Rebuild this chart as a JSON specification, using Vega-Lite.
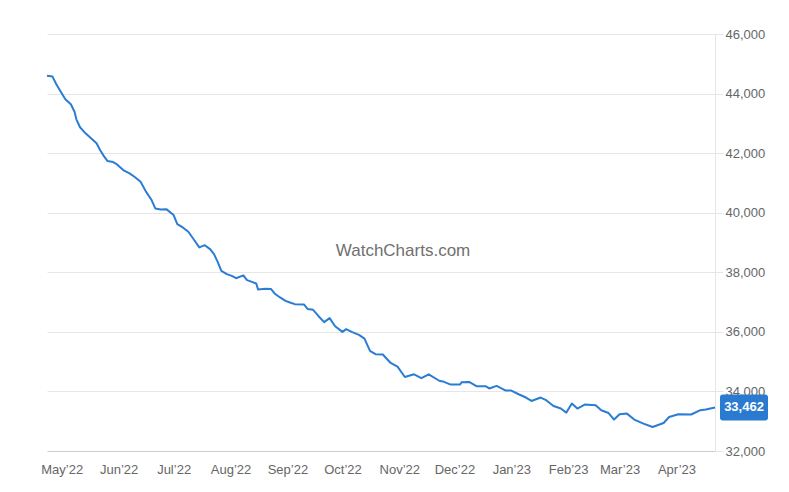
{
  "$schema": "https://vega.github.io/schema/vega-lite/v6.json",
  "width": 668,
  "height": 417,
  "autosize": "none",
  "padding": {"left": 47, "top": 34, "right": 74, "bottom": 41},
  "background": "white",
  "config": {
    "view": {"stroke": null},
    "font": "Liberation Sans"
  },
  "datasets": {
    "prices": [
      {"date": "2022-04-23", "price": 44600},
      {"date": "2022-04-26", "price": 44570},
      {"date": "2022-04-28", "price": 44320},
      {"date": "2022-05-01", "price": 44010},
      {"date": "2022-05-03", "price": 43810},
      {"date": "2022-05-06", "price": 43640},
      {"date": "2022-05-08", "price": 43390},
      {"date": "2022-05-09", "price": 43135},
      {"date": "2022-05-11", "price": 42870},
      {"date": "2022-05-14", "price": 42665},
      {"date": "2022-05-17", "price": 42500},
      {"date": "2022-05-20", "price": 42330},
      {"date": "2022-05-22", "price": 42100},
      {"date": "2022-05-24", "price": 41900},
      {"date": "2022-05-26", "price": 41735},
      {"date": "2022-05-29", "price": 41700},
      {"date": "2022-05-31", "price": 41630},
      {"date": "2022-06-04", "price": 41410},
      {"date": "2022-06-07", "price": 41320},
      {"date": "2022-06-10", "price": 41190},
      {"date": "2022-06-13", "price": 41040},
      {"date": "2022-06-16", "price": 40700},
      {"date": "2022-06-19", "price": 40425},
      {"date": "2022-06-21", "price": 40145},
      {"date": "2022-06-24", "price": 40110},
      {"date": "2022-06-27", "price": 40120},
      {"date": "2022-07-01", "price": 39920},
      {"date": "2022-07-03", "price": 39620},
      {"date": "2022-07-06", "price": 39505},
      {"date": "2022-07-09", "price": 39360},
      {"date": "2022-07-12", "price": 39100},
      {"date": "2022-07-15", "price": 38835},
      {"date": "2022-07-18", "price": 38910},
      {"date": "2022-07-21", "price": 38770},
      {"date": "2022-07-23", "price": 38610},
      {"date": "2022-07-25", "price": 38350},
      {"date": "2022-07-27", "price": 38050},
      {"date": "2022-07-30", "price": 37940},
      {"date": "2022-08-02", "price": 37870},
      {"date": "2022-08-04", "price": 37800},
      {"date": "2022-08-08", "price": 37895},
      {"date": "2022-08-10", "price": 37735},
      {"date": "2022-08-13", "price": 37670},
      {"date": "2022-08-15", "price": 37625},
      {"date": "2022-08-16", "price": 37425},
      {"date": "2022-08-20", "price": 37445},
      {"date": "2022-08-23", "price": 37440},
      {"date": "2022-08-25", "price": 37290},
      {"date": "2022-08-28", "price": 37155},
      {"date": "2022-08-31", "price": 37040},
      {"date": "2022-09-02", "price": 36995},
      {"date": "2022-09-05", "price": 36930},
      {"date": "2022-09-10", "price": 36920},
      {"date": "2022-09-12", "price": 36770},
      {"date": "2022-09-15", "price": 36740},
      {"date": "2022-09-18", "price": 36525},
      {"date": "2022-09-21", "price": 36325},
      {"date": "2022-09-24", "price": 36460},
      {"date": "2022-09-27", "price": 36190},
      {"date": "2022-10-01", "price": 36000},
      {"date": "2022-10-03", "price": 36090},
      {"date": "2022-10-06", "price": 36000},
      {"date": "2022-10-10", "price": 35900},
      {"date": "2022-10-13", "price": 35775},
      {"date": "2022-10-16", "price": 35360},
      {"date": "2022-10-19", "price": 35250},
      {"date": "2022-10-23", "price": 35240},
      {"date": "2022-10-27", "price": 34970},
      {"date": "2022-10-31", "price": 34835},
      {"date": "2022-11-04", "price": 34485},
      {"date": "2022-11-09", "price": 34575},
      {"date": "2022-11-13", "price": 34445},
      {"date": "2022-11-17", "price": 34575},
      {"date": "2022-11-23", "price": 34350},
      {"date": "2022-11-25", "price": 34330},
      {"date": "2022-11-29", "price": 34230},
      {"date": "2022-12-04", "price": 34230},
      {"date": "2022-12-05", "price": 34310},
      {"date": "2022-12-09", "price": 34320},
      {"date": "2022-12-13", "price": 34175},
      {"date": "2022-12-18", "price": 34175},
      {"date": "2022-12-20", "price": 34100},
      {"date": "2022-12-24", "price": 34185},
      {"date": "2022-12-29", "price": 34030},
      {"date": "2023-01-01", "price": 34030},
      {"date": "2023-01-05", "price": 33905},
      {"date": "2023-01-09", "price": 33795},
      {"date": "2023-01-12", "price": 33680},
      {"date": "2023-01-17", "price": 33795},
      {"date": "2023-01-20", "price": 33705},
      {"date": "2023-01-24", "price": 33510},
      {"date": "2023-01-28", "price": 33425},
      {"date": "2023-01-31", "price": 33290},
      {"date": "2023-02-03", "price": 33595},
      {"date": "2023-02-06", "price": 33425},
      {"date": "2023-02-10", "price": 33560},
      {"date": "2023-02-16", "price": 33535},
      {"date": "2023-02-19", "price": 33370},
      {"date": "2023-02-23", "price": 33275},
      {"date": "2023-02-26", "price": 33055},
      {"date": "2023-03-01", "price": 33235},
      {"date": "2023-03-05", "price": 33255},
      {"date": "2023-03-09", "price": 33055},
      {"date": "2023-03-14", "price": 32920},
      {"date": "2023-03-19", "price": 32805},
      {"date": "2023-03-25", "price": 32940},
      {"date": "2023-03-28", "price": 33140},
      {"date": "2023-04-02", "price": 33235},
      {"date": "2023-04-09", "price": 33225},
      {"date": "2023-04-14", "price": 33370},
      {"date": "2023-04-17", "price": 33390},
      {"date": "2023-04-22", "price": 33462}
    ],
    "watermark": [
      {"date": "2022-11-03", "price": 38710, "label": "WatchCharts.com"}
    ]
  },
  "encoding": {
    "x": {
      "field": "date",
      "type": "temporal",
      "scale": {"type": "utc"},
      "axis": {
        "title": null,
        "format": "%b’%y",
        "tickCount": {"interval": "month", "step": 1},
        "labelOverlap": false,
        "ticks": false,
        "grid": false,
        "domainColor": "#cccccc",
        "domainWidth": 1,
        "labelColor": "#666666",
        "labelFontSize": 13,
        "labelPadding": 12,
        "labelFont": "Liberation Sans"
      }
    },
    "y": {
      "field": "price",
      "type": "quantitative",
      "scale": {"domain": [32000, 46000], "nice": false, "zero": false},
      "axis": {
        "title": null,
        "orient": "right",
        "values": [32000, 34000, 36000, 38000, 40000, 42000, 44000, 46000],
        "format": ",d",
        "grid": true,
        "gridColor": "#e6e6e6",
        "tickColor": "#e6e6e6",
        "tickSize": 8,
        "domainColor": "#e6e6e6",
        "labelColor": "#666666",
        "labelFontSize": 13,
        "labelPadding": 2,
        "labelFont": "Liberation Sans"
      }
    }
  },
  "layer": [
    {
      "data": {"name": "watermark"},
      "mark": {"type": "text", "fontSize": 17, "color": "#707070", "align": "center", "baseline": "middle"},
      "encoding": {
        "text": {"field": "label"}
      }
    },
    {
      "data": {"name": "prices"},
      "mark": {"type": "line", "color": "#2a7dd3", "strokeWidth": 2, "strokeJoin": "round"}
    },
    {
      "data": {"name": "prices"},
      "transform": [
        {"window": [{"op": "row_number", "as": "rn"}], "sort": [{"field": "date", "order": "descending"}]},
        {"filter": "datum.rn === 1"}
      ],
      "mark": {
        "type": "point",
        "filled": true,
        "opacity": 1,
        "color": "#2a7ad0",
        "strokeWidth": 0,
        "size": 2304,
        "xOffset": 29,
        "shape": "M-0.875,-0.5417L0.875,-0.5417Q1,-0.5417,1,-0.4167L1,0.4167Q1,0.5417,0.875,0.5417L-0.875,0.5417Q-1,0.5417,-1,0.4167L-1,-0.4167Q-1,-0.5417,-0.875,-0.5417Z"
      }
    },
    {
      "data": {"name": "prices"},
      "transform": [
        {"window": [{"op": "row_number", "as": "rn"}], "sort": [{"field": "date", "order": "descending"}]},
        {"filter": "datum.rn === 1"}
      ],
      "mark": {"type": "text", "color": "white", "fontWeight": "bold", "fontSize": 13, "align": "center", "baseline": "middle", "xOffset": 29, "font": "Liberation Sans"},
      "encoding": {
        "text": {"field": "price", "type": "quantitative", "format": ",d"}
      }
    }
  ]
}
